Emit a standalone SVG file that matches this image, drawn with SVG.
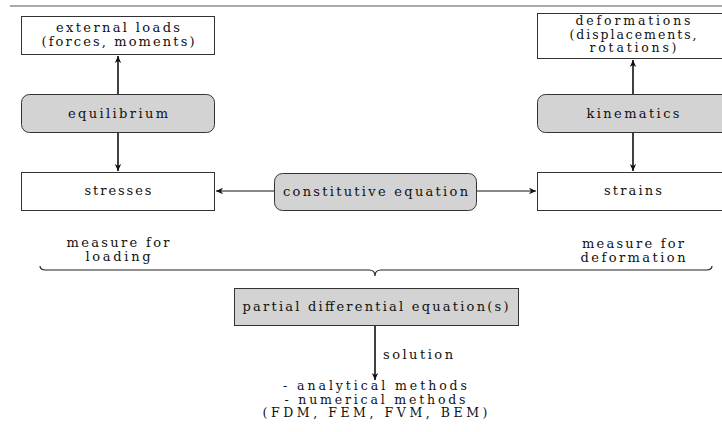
<svg xmlns="http://www.w3.org/2000/svg" width="722" height="432" viewBox="0 0 722 432">
<defs>
<marker id="ah" markerWidth="8" markerHeight="8" refX="7" refY="4" orient="auto" markerUnits="userSpaceOnUse">
<path d="M0,0.8 L7,4 L0,7.2 L2,4 Z" fill="#111"/>
</marker>
<style>
.box{fill:#fff;stroke:#333;stroke-width:1}
.gbox{fill:#d3d3d3;stroke:#333;stroke-width:1}
text{font-family:"DejaVu Serif","Liberation Serif",serif;font-size:13px;fill:#111;text-anchor:middle}
.sm{font-size:12.5px}
.c{stroke:#111;stroke-width:1.6;fill:none;marker-end:url(#ah)}
.ch{stroke:#111;stroke-width:1;fill:none;marker-end:url(#ah)}
</style>
</defs>
<rect width="722" height="432" fill="#fff"/>
<line x1="10" y1="6" x2="722" y2="6" stroke="#555" stroke-width="1"/>

<g id="external-loads">
<rect class="box" x="21.5" y="16.5" width="193" height="38"/>
<text x="118" y="32" textLength="124" lengthAdjust="spacing">external loads</text>
<text x="118" y="46" textLength="153" lengthAdjust="spacing">(forces, moments)</text>
</g>
<g id="equilibrium">
<rect class="gbox" x="21.5" y="94.5" width="193" height="38" rx="8"/>
<text x="118" y="118" textLength="100" lengthAdjust="spacing">equilibrium</text>
</g>
<g id="stresses">
<rect class="box" x="21.5" y="172.5" width="193" height="38"/>
<text x="118" y="195" textLength="67" lengthAdjust="spacing">stresses</text>
</g>
<g id="deformations">
<rect class="box" x="537.5" y="13.5" width="193" height="45"/>
<text class="sm" x="633" y="25" textLength="115" lengthAdjust="spacing">deformations</text>
<text class="sm" x="633" y="38.5" textLength="127" lengthAdjust="spacing">(displacements,</text>
<text class="sm" x="633" y="52" textLength="87" lengthAdjust="spacing">rotations)</text>
</g>
<g id="kinematics">
<rect class="gbox" x="537.5" y="94.5" width="193" height="38" rx="8"/>
<text x="633" y="118" textLength="93" lengthAdjust="spacing">kinematics</text>
</g>
<g id="strains">
<rect class="box" x="537.5" y="172.5" width="193" height="38"/>
<text x="633" y="195" textLength="58" lengthAdjust="spacing">strains</text>
</g>
<g id="constitutive-equation">
<rect class="gbox" x="274.5" y="173.5" width="202" height="37" rx="8"/>
<text x="375.5" y="196" textLength="185" lengthAdjust="spacing">constitutive equation</text>
</g>
<g id="labels">
<text x="118" y="247" textLength="103" lengthAdjust="spacing">measure for</text>
<text x="118" y="261" textLength="65" lengthAdjust="spacing">loading</text>
<text x="633" y="248" textLength="102" lengthAdjust="spacing">measure for</text>
<text x="633" y="262" textLength="105" lengthAdjust="spacing">deformation</text>
</g>
<g id="brace">
<path d="M40,266 Q40,270 46,270 L369,270 Q375,270 375,276 Q375,270 381,270 L706,270 Q712,270 712,266" fill="none" stroke="#222" stroke-width="1.2"/>
</g>
<g id="pde">
<rect class="gbox" x="234.5" y="288.5" width="284" height="37"/>
<text x="375.5" y="311" textLength="266" lengthAdjust="spacing">partial differential equation(s)</text>
</g>
<g id="methods">
<text class="sm" x="375" y="390" textLength="184" lengthAdjust="spacing">- analytical methods</text>
<text class="sm" x="375" y="403.5" textLength="181" lengthAdjust="spacing">- numerical methods</text>
<text class="sm" x="375" y="417" textLength="225" lengthAdjust="spacing">(FDM, FEM, FVM, BEM)</text>
</g>
<g id="connectors">
<line class="c" x1="118" y1="94" x2="118" y2="56"/>
<line class="c" x1="118" y1="133" x2="118" y2="171"/>
<line class="c" x1="633" y1="94" x2="633" y2="60"/>
<line class="c" x1="633" y1="133" x2="633" y2="171"/>
<line class="ch" x1="274" y1="191" x2="216" y2="191"/>
<line class="ch" x1="477" y1="191" x2="536" y2="191"/>
<line class="c" x1="375" y1="326" x2="375" y2="380"/>
<text x="383" y="359" style="text-anchor:start" textLength="70" lengthAdjust="spacing">solution</text>
</g>
</svg>
